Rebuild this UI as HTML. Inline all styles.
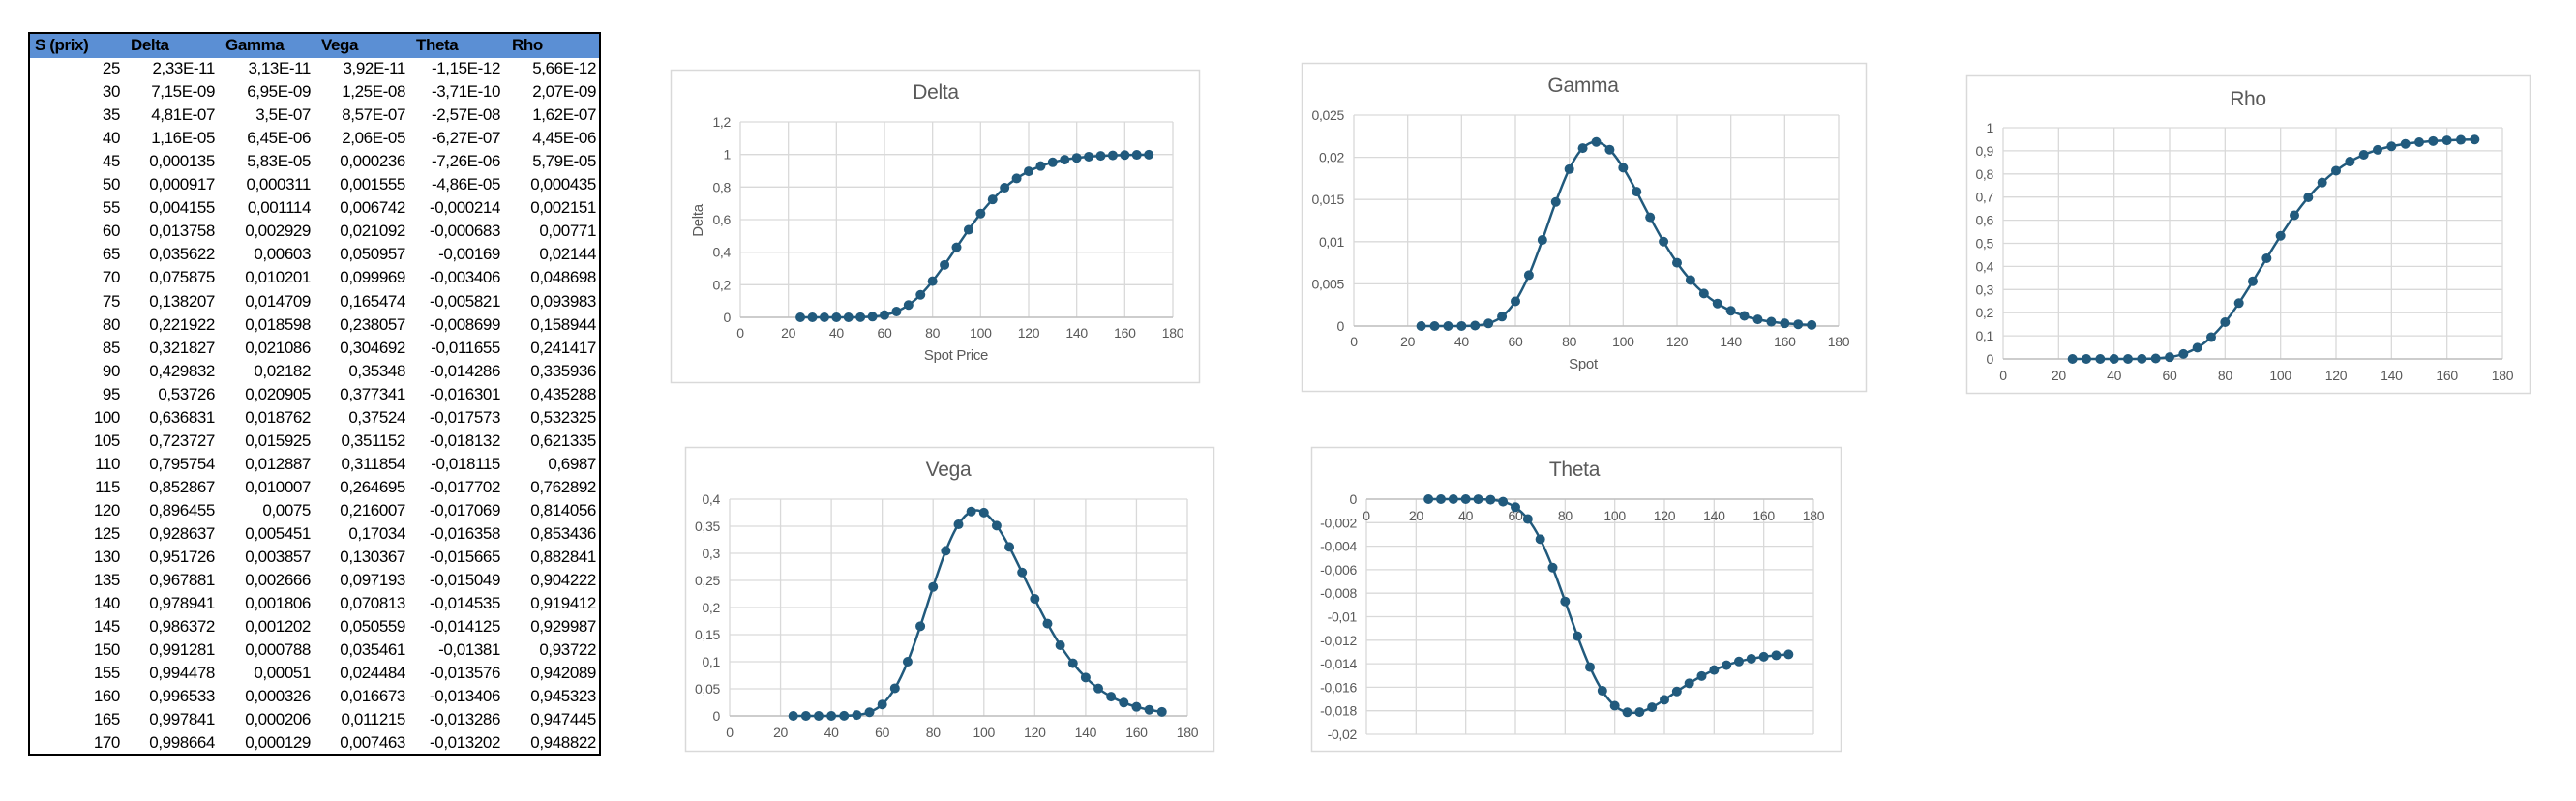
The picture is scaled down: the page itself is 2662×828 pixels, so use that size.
<!DOCTYPE html>
<html><head><meta charset="utf-8"><style>
html,body{margin:0;padding:0;background:#fff;}
body{width:2662px;height:828px;position:relative;overflow:hidden;font-family:"Liberation Sans Narrow","Liberation Sans",sans-serif;}
#tbl{position:absolute;left:29px;top:33px;width:588px;height:744px;border:2px solid #000;}
.cell{position:absolute;font-size:17px;color:#000;line-height:24px;white-space:nowrap;letter-spacing:-0.4px;}
#hdr{position:absolute;left:0;top:0;width:588px;height:25px;background:#5b8fd4;}
.h{font-weight:bold;}
svg text{font-family:"Liberation Sans Narrow","Liberation Sans",sans-serif;fill:#595959;letter-spacing:-0.3px;}
</style></head><body>
<div id="tbl"><div id="hdr"></div></div>
<svg id="svg" width="2662" height="828" style="position:absolute;left:0;top:0"></svg>
<script>
const spots=[25,30,35,40,45,50,55,60,65,70,75,80,85,90,95,100,105,110,115,120,125,130,135,140,145,150,155,160,165,170];
const deltaVals=[2.33e-11,7.15e-9,4.81e-7,1.16e-5,0.000135,0.000917,0.004155,0.013758,0.035622,0.075875,0.138207,0.221922,0.321827,0.429832,0.53726,0.636831,0.723727,0.795754,0.852867,0.896455,0.928637,0.951726,0.967881,0.978941,0.986372,0.991281,0.994478,0.996533,0.997841,0.998664];
const gammaVals=[3.13e-11,6.95e-9,3.5e-7,6.45e-6,5.83e-5,0.000311,0.001114,0.002929,0.00603,0.010201,0.014709,0.018598,0.021086,0.02182,0.020905,0.018762,0.015925,0.012887,0.010007,0.0075,0.005451,0.003857,0.002666,0.001806,0.001202,0.000788,0.00051,0.000326,0.000206,0.000129];
const vegaVals=[3.92e-11,1.25e-8,8.57e-7,2.06e-5,0.000236,0.001555,0.006742,0.021092,0.050957,0.099969,0.165474,0.238057,0.304692,0.35348,0.377341,0.37524,0.351152,0.311854,0.264695,0.216007,0.17034,0.130367,0.097193,0.070813,0.050559,0.035461,0.024484,0.016673,0.011215,0.007463];
const thetaVals=[-1.15e-12,-3.71e-10,-2.57e-8,-6.27e-7,-7.26e-6,-4.86e-5,-0.000214,-0.000683,-0.00169,-0.003406,-0.005821,-0.008699,-0.011655,-0.014286,-0.016301,-0.017573,-0.018132,-0.018115,-0.017702,-0.017069,-0.016358,-0.015665,-0.015049,-0.014535,-0.014125,-0.01381,-0.013576,-0.013406,-0.013286,-0.013202];
const rhoVals=[5.66e-12,2.07e-9,1.62e-7,4.45e-6,5.79e-5,0.000435,0.002151,0.00771,0.02144,0.048698,0.093983,0.158944,0.241417,0.335936,0.435288,0.532325,0.621335,0.6987,0.762892,0.814056,0.853436,0.882841,0.904222,0.919412,0.929987,0.93722,0.942089,0.945323,0.947445,0.948822];
const headers=["S (prix)","Delta","Gamma","Vega","Theta","Rho"];
const tDelta=["2,33E-11","7,15E-09","4,81E-07","1,16E-05","0,000135","0,000917","0,004155","0,013758","0,035622","0,075875","0,138207","0,221922","0,321827","0,429832","0,53726","0,636831","0,723727","0,795754","0,852867","0,896455","0,928637","0,951726","0,967881","0,978941","0,986372","0,991281","0,994478","0,996533","0,997841","0,998664"];
const tGamma=["3,13E-11","6,95E-09","3,5E-07","6,45E-06","5,83E-05","0,000311","0,001114","0,002929","0,00603","0,010201","0,014709","0,018598","0,021086","0,02182","0,020905","0,018762","0,015925","0,012887","0,010007","0,0075","0,005451","0,003857","0,002666","0,001806","0,001202","0,000788","0,00051","0,000326","0,000206","0,000129"];
const tVega=["3,92E-11","1,25E-08","8,57E-07","2,06E-05","0,000236","0,001555","0,006742","0,021092","0,050957","0,099969","0,165474","0,238057","0,304692","0,35348","0,377341","0,37524","0,351152","0,311854","0,264695","0,216007","0,17034","0,130367","0,097193","0,070813","0,050559","0,035461","0,024484","0,016673","0,011215","0,007463"];
const tTheta=["-1,15E-12","-3,71E-10","-2,57E-08","-6,27E-07","-7,26E-06","-4,86E-05","-0,000214","-0,000683","-0,00169","-0,003406","-0,005821","-0,008699","-0,011655","-0,014286","-0,016301","-0,017573","-0,018132","-0,018115","-0,017702","-0,017069","-0,016358","-0,015665","-0,015049","-0,014535","-0,014125","-0,01381","-0,013576","-0,013406","-0,013286","-0,013202"];
const tRho=["5,66E-12","2,07E-09","1,62E-07","4,45E-06","5,79E-05","0,000435","0,002151","0,00771","0,02144","0,048698","0,093983","0,158944","0,241417","0,335936","0,435288","0,532325","0,621335","0,6987","0,762892","0,814056","0,853436","0,882841","0,904222","0,919412","0,929987","0,93722","0,942089","0,945323","0,947445","0,948822"];

// table
const tbl=document.getElementById('tbl');
const hdrLeft=[5,104,202,301,399,498];
const colRight=[93,191,290,388,486,585];
headers.forEach((h,i)=>{
  const d=document.createElement('div');
  d.className='cell h';d.textContent=h;
  d.style.left=hdrLeft[i]+'px';d.style.top='0px';
  
  
  tbl.appendChild(d);
});
const cols=[spots.map(String),tDelta,tGamma,tVega,tTheta,tRho];
for(let r=0;r<spots.length;r++){
  cols.forEach((c,i)=>{
    const d=document.createElement('div');
    d.className='cell';d.textContent=c[r];
    d.style.right=(588-colRight[i])+'px';d.style.top=(24+r*24.05)+'px';
    
    
    tbl.appendChild(d);
  });
}

// charts
const svg=document.getElementById('svg');const NS='http://www.w3.org/2000/svg';
function el(t,a,p){const e=document.createElementNS(NS,t);for(const k in a)e.setAttribute(k,a[k]);(p||svg).appendChild(e);return e;}
function fmt(v,dec){let s=v.toFixed(dec);if(s.indexOf('.')>=0)s=s.replace(/0+$/,'').replace(/\.$/,'');if(s==='-0')s='0';return s.replace('.',',');}
function smooth(pts){let d='M'+pts[0][0]+','+pts[0][1];
  for(let i=0;i<pts.length-1;i++){const p0=pts[Math.max(0,i-1)],p1=pts[i],p2=pts[i+1],p3=pts[Math.min(pts.length-1,i+2)];
    const t=1/6;d+=' C'+(p1[0]+(p2[0]-p0[0])*t)+','+(p1[1]+(p2[1]-p0[1])*t)+' '+(p2[0]-(p3[0]-p1[0])*t)+','+(p2[1]-(p3[1]-p1[1])*t)+' '+p2[0]+','+p2[1];}
  return d;}
function chart(c){
  const g=el('g',{});
  
  
  el('rect',{x:c.box[0]+.5,y:c.box[1]+.5,width:c.box[2]-c.box[0],height:c.box[3]-c.box[1],fill:'#fff',stroke:'#d9d9d9','stroke-width':1.5},g);
  const sx=v=>c.x0+(v-0)/180*(c.x1-c.x0);
  const sy=v=>c.yb+(v-c.ymin)/(c.ymax-c.ymin)*(c.yt-c.yb);
  const nT=Math.round((c.ymax-c.ymin)/c.step);
  for(let i=0;i<=nT;i++){const v=c.ymin+i*c.step;const y=sy(v);
    const gl=el('line',{x1:c.x0,x2:c.x1,y1:y,y2:y,stroke:'#d9d9d9','stroke-width':1.3},g);
    
    const t=el('text',{x:c.x0-10,y:y+5,'text-anchor':'end','font-size':14},g);t.textContent=fmt(v,c.dec);
    }
  const zeroY=sy(c.cross);
  for(let v=0;v<=180;v+=20){const x=sx(v);
    const gl=el('line',{x1:x,x2:x,y1:sy(c.ymin),y2:sy(c.ymax),stroke:'#d9d9d9','stroke-width':1.3},g);
    
    const t=el('text',{x:x,y:zeroY+c.xlOff,'text-anchor':'middle','font-size':14},g);t.textContent=v;
    }
  const ax=el('line',{x1:c.x0,x2:c.x1,y1:zeroY,y2:zeroY,stroke:'#bfbfbf','stroke-width':1.5},g);
  
  if(c.title){const tt=el('text',{x:c.title[0],y:c.title[1]+7,'text-anchor':'middle','font-size':21},g);tt.textContent=c.label;
    }
  if(c.xlab){const t=el('text',{x:c.xlab[0],y:c.xlab[1]+5,'text-anchor':'middle','font-size':15},g);t.textContent=c.xlab[2];
    }
  if(c.ylab){const t=el('text',{x:0,y:0,'text-anchor':'middle','font-size':15,transform:'translate('+(c.ylab[0]+5)+','+c.ylab[1]+') rotate(-90)'},g);t.textContent=c.ylab[2];
    }
  const pts=spots.map((s,i)=>[sx(s),sy(c.vals[i])]);
  const ln=el('path',{d:smooth(pts),fill:'none',stroke:'#215a7d','stroke-width':2.5},g);
  
  pts.forEach(p=>{const m=el('circle',{cx:p[0],cy:p[1],r:5,fill:'#215a7d'},g);
    });
}
chart({name:'delta',label:'Delta',vals:deltaVals,box:[693,72,1239,395],x0:765,x1:1212,yb:328,yt:126,ymin:0,ymax:1.2,step:0.2,dec:1,cross:0,xlOff:21,title:[967,95],xlab:[988,367,'Spot Price'],ylab:[721,228,'Delta']});
chart({name:'gamma',label:'Gamma',vals:gammaVals,box:[1345,65,1928,404],x0:1399,x1:1900,yb:337,yt:119,ymin:0,ymax:0.025,step:0.005,dec:3,cross:0,xlOff:21,title:[1636,88],xlab:[1636,376,'Spot']});
chart({name:'rho',label:'Rho',vals:rhoVals,box:[2032,78,2614,406],x0:2070,x1:2586,yb:371,yt:132,ymin:0,ymax:1,step:0.1,dec:1,cross:0,xlOff:22,title:[2323,102]});
chart({name:'vega',label:'Vega',vals:vegaVals,box:[708,462,1254,776],x0:754,x1:1227,yb:740,yt:516,ymin:0,ymax:0.4,step:0.05,dec:2,cross:0,xlOff:22,title:[980,485]});
chart({name:'theta',label:'Theta',vals:thetaVals,box:[1355,462,1902,776],x0:1412,x1:1874,yb:759,yt:516,ymin:-0.02,ymax:0,step:0.002,dec:3,cross:0,xlOff:22,title:[1627,485]});
</script>
</body></html>
